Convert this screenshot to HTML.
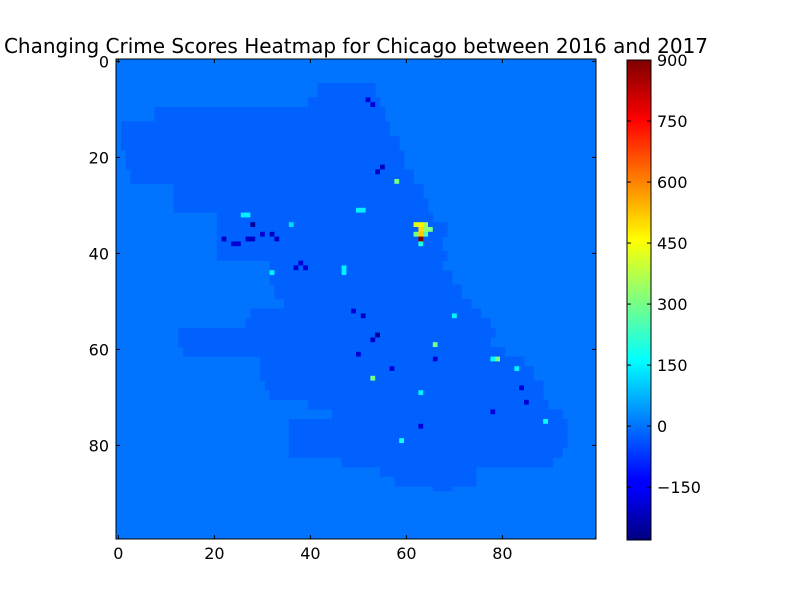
<!DOCTYPE html>
<html><head><meta charset="utf-8"><style>
body{margin:0;background:#fff;}
svg text{font-family:"DejaVu Sans","Liberation Sans",sans-serif;}
</style></head><body>
<svg id="chart" width="800" height="600" xmlns="http://www.w3.org/2000/svg">
<rect width="800" height="600" fill="#fff"/>
<text x="356" y="53" font-size="20" text-anchor="middle">Changing Crime Scores Heatmap for Chicago between 2016 and 2017</text>
<g id="cells"></g>
<rect x="116" y="59" width="480" height="480" fill="none" stroke="#000"/>
<g id="axes"></g>
<defs><linearGradient id="jet" x1="0" y1="1" x2="0" y2="0">
<stop offset="0" stop-color="#00007f"/><stop offset="0.11" stop-color="#0000ff"/><stop offset="0.125" stop-color="#0000ff"/><stop offset="0.375" stop-color="#00ffff"/><stop offset="0.625" stop-color="#ffff00"/><stop offset="0.875" stop-color="#ff0000"/><stop offset="1" stop-color="#7f0000"/></linearGradient></defs>
<rect x="627" y="60" width="24" height="480" fill="url(#jet)" stroke="#000"/>
<g id="cbaxis"></g>
</svg>
<script>
const N = 100;
const vmin = -280, vmax = 900;
const keyRows = [6,8,10,14,17,20,24,27,30,32,35,38,40,42,45,48,50,52,54,56,58,60,62,65,67,69,71,73,76,79,81,83,85,87,89];
const rowStart = [42,40,8,1,1,2,3,12,12,21,21,21,21,32,32,33,35,28,27,13,13,14,30,30,31,32,40,45,36,36,36,47,55,58,66];
const rowEnd = [53,54,55,56,58,59,61,63,64,65,68,67,68,67,69,71,73,75,77,78,77,80,84,86,88,88,89,92,93,93,92,90,74,74,69];
const regionValue = -20;
const hotX = [62,63,64,65,63,64,62,63,64,63,63,
 28,27,28,30,22,24,32,33,55,54,53,52,39,37,38,51,49,54,53,50,57,66,85,78,84,63,25,
 26,27,32,47,58,51,50,47,36,70,66,79,53,63,59,89,83,78];
const hotY = [34,34,34,35,35,35,36,36,36,37,38,
 34,37,37,36,37,38,36,37,22,23,9,8,43,43,42,53,52,57,58,61,64,62,71,73,68,76,38,
 32,32,44,43,25,31,31,44,34,53,59,62,66,69,79,75,64,62];
const hotV = [420,470,360,300,500,320,300,520,250,900,200,
 -250,-200,-200,-180,-200,-180,-200,-200,-200,-200,-180,-180,-180,-180,-180,-200,-180,-250,-200,-180,-180,-180,-180,-180,-180,-180,-180,
 150,150,150,150,300,150,150,150,120,150,300,300,300,150,180,160,150,160];
const xTicks = [0,20,40,60,80];
const yTicks = [0,20,40,60,80];
const cbTicks = [-150,0,150,300,450,600,750,900];

const X0=116,Y0=59,S=4.8;
const sx=i=>X0+i*S, sy=j=>Y0+j*S;
const cbY=v=>540-(v-vmin)/(vmax-vmin)*480;
function jet(v){let t=(v-vmin)/(vmax-vmin);t=Math.max(0,Math.min(1,t));
 const c=x=>Math.round(255*Math.max(0,Math.min(1,1.5-Math.abs(4*t-x))));
 return `rgb(${c(3)},${c(2)},${c(1)})`;}
const NS="http://www.w3.org/2000/svg";
function mk(tag,attrs,parent){const e=document.createElementNS(NS,tag);for(const k in attrs)e.setAttribute(k,attrs[k]);parent.appendChild(e);return e;}
const grid=[];for(let j=0;j<N;j++){grid.push(new Array(N).fill(0));}
for(let j=0;j<N;j++){if(j<5||j>89)continue;let best=-1,bd=1e9;keyRows.forEach((r,k)=>{const d=Math.abs(r-j);if(d<bd){bd=d;best=k;}});
 for(let i=rowStart[best];i<=rowEnd[best];i++)grid[j][i]=regionValue;}
hotX.forEach((x,k)=>{grid[hotY[k]][x]=hotV[k];});
const cg=document.getElementById('cells');
const bg=mk('rect',{x:X0,y:Y0,width:480,height:480,fill:jet(0)},cg);


for(let j=0;j<N;j++)for(let i=0;i<N;i++){const v=grid[j][i];if(v===0)continue;
 const r=mk('rect',{x:sx(i),y:sy(j),width:S+0.3,height:S+0.3,fill:jet(v)},cg);
 
 }
const ax=document.getElementById('axes');
xTicks.forEach(t=>{const x=sx(t)+S/2;
 mk('line',{x1:x,x2:x,y1:539,y2:535,stroke:'#000'},ax);mk('line',{x1:x,x2:x,y1:59,y2:63,stroke:'#000'},ax);
 const tx=mk('text',{x:x,y:559,'font-size':16,'text-anchor':'middle'},ax);tx.textContent=t;
 
 });
yTicks.forEach(t=>{const y=sy(t)+S/2;
 mk('line',{x1:116,x2:120,y1:y,y2:y,stroke:'#000'},ax);mk('line',{x1:596,x2:592,y1:y,y2:y,stroke:'#000'},ax);
 const tx=mk('text',{x:109,y:y+6,'font-size':16,'text-anchor':'end'},ax);tx.textContent=t;
 
 });
const cb=document.getElementById('cbaxis');
cbTicks.forEach(t=>{const y=cbY(t);
 mk('line',{x1:651,x2:647,y1:y,y2:y,stroke:'#000'},cb);mk('line',{x1:627,x2:631,y1:y,y2:y,stroke:'#000'},cb);
 const tx=mk('text',{x:657,y:y+6,'font-size':16},cb);tx.textContent=t<0?'\u2212'+(-t):t;
 
 });
</script>
</body></html>
